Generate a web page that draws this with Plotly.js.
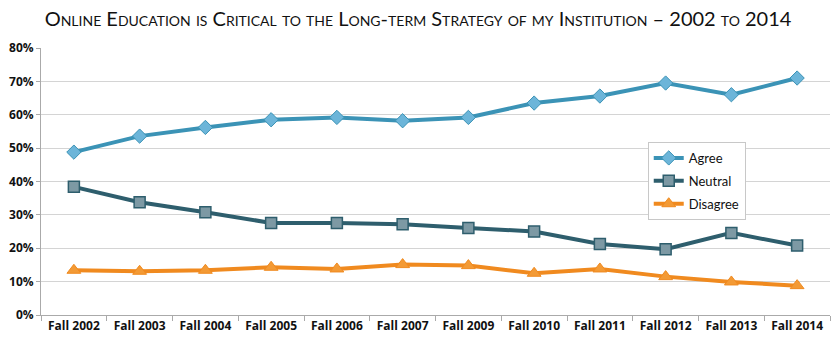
<!DOCTYPE html>
<html><head><meta charset="utf-8">
<script src="https://cdn.plot.ly/plotly-3.0.1.min.js"></script>
<style>body{margin:0;background:#fff}#c{width:836px;height:344px}</style>
</head><body><div id="c"></div>
<script>
const categories = ["Fall 2002","Fall 2003","Fall 2004","Fall 2005","Fall 2006","Fall 2007","Fall 2009","Fall 2010","Fall 2011","Fall 2012","Fall 2013","Fall 2014"];
const agree    = [48.8, 53.6, 56.2, 58.5, 59.2, 58.2, 59.2, 63.5, 65.6, 69.5, 66.0, 71.0];
const neutral  = [38.4, 33.8, 30.8, 27.6, 27.6, 27.2, 26.1, 25.0, 21.3, 19.7, 24.6, 20.8];
const disagree = [13.4, 13.1, 13.4, 14.3, 13.8, 15.1, 14.8, 12.5, 13.8, 11.5, 9.9, 8.8];
const yTicks = [0,10,20,30,40,50,60,70,80];

const traces = [
 {x:categories, y:agree, name:"Agree", legendgroup:"a", mode:"lines+markers",
  line:{color:"#3b93b6", width:4},
  marker:{symbol:"diamond", size:11, color:"#6cb5d9", line:{color:"#3b93b6", width:1}}},
 {x:categories, y:neutral, name:"Neutral", legendgroup:"n", mode:"lines+markers",
  line:{color:"#2e5e6d", width:4},
  marker:{symbol:"square", size:11, color:"#7d99a4", line:{color:"#2e5e6d", width:1.5}}},
 {x:categories, y:disagree, name:"Disagree", legendgroup:"d", mode:"lines+markers",
  line:{color:"#f08a1f", width:4},
  marker:{symbol:"triangle-up", size:12, color:"#f39a35", line:{color:"#f08a1f", width:1}}}
];

const layout = {
 width:836, height:344,
 margin:{l:41, r:6, t:48, b:29},
 paper_bgcolor:"#fff", plot_bgcolor:"#fff",
 title:{text:"Online Education is Critical to the Long-term Strategy of my Institution – 2002 to 2014",
        font:{family:"Lato, 'Open Sans', sans-serif", size:20, color:"#111", variant:"small-caps"},
        x:0.5, xanchor:"center", y:0.945, yanchor:"middle"},
 xaxis:{type:"category", range:[-0.5, 11.5], automargin:false, tickson:"boundaries", ticks:"outside", ticklen:5, tickcolor:"#aaa",
        showline:true, linecolor:"#aaa", linewidth:1, showgrid:false, zeroline:false,
        tickfont:{family:"'Open Sans', sans-serif", size:12, color:"#111", weight:"bold"}},
 yaxis:{range:[0,80], automargin:false, tickvals:yTicks, ticktext:yTicks.map(v=>v+"%"), ticks:"outside", ticklen:4, tickcolor:"#aaa",
        showline:true, linecolor:"#aaa", linewidth:1, gridcolor:"#d4d4d4", gridwidth:1, zeroline:false,
        tickfont:{family:"'Open Sans', sans-serif", size:12, color:"#111", weight:"bold"}},
 showlegend:true,
 legend:{x:0.769, y:0.648, xanchor:"left", yanchor:"top", bgcolor:"#fff", bordercolor:"#c8c8c8", borderwidth:1,
         traceorder:"grouped", tracegroupgap:3,
         font:{family:"Lato, sans-serif", size:13, color:"#111"}, itemwidth:30}
};
Plotly.newPlot("c", traces, layout, {displayModeBar:false, staticPlot:true});
</script></body></html>
